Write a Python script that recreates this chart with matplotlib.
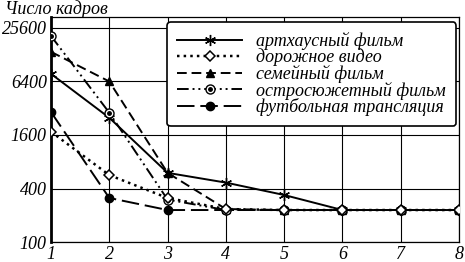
# Число кадров по номеру шага для пяти типов видео (лог. шкала)
import matplotlib.pyplot as plt
from matplotlib.legend_handler import HandlerTuple

plt.rcParams['font.family'] = ['Liberation Serif', 'DejaVu Serif']
plt.rcParams['font.style'] = 'italic'

steps = [1, 2, 3, 4, 5, 6, 7, 8]
arthouse = [7800, 2500, 600, 466, 338, 229, 229, 229]
road = [1740, 566, 313, 235, 229, 229, 229, 229]
family = [13800, 6400, 600, 235, 229, 229, 229, 229]
action = [20800, 2850, 300, 229, 229, 229, 229, 229]
football = [2900, 313, 229, 229, 229, 229, 229, 229]

labels = ['артхаусный фильм', 'дорожное видео', 'семейный фильм',
          'остросюжетный фильм', 'футбольная трансляция']
yticks = [100, 400, 1600, 6400, 25600]

fig = plt.figure(figsize=(4.65, 2.62), dpi=100)
ax = fig.add_axes([0.1097, 0.0763, 0.8774, 0.8587])

lw = 1.4
l1, = ax.plot(steps, arthouse, '-', color='k', lw=lw, marker=(6, 2, 0),
              ms=8, mew=1.0, zorder=3)
l2, = ax.plot(steps, road, ':', color='k', lw=lw + 0.4, marker='D', ms=5.5,
              mfc='white', mec='k', mew=1.1, zorder=4)
l3, = ax.plot(steps, family, '--', color='k', lw=lw, marker='^', ms=6,
              dashes=(5, 2.5), zorder=2)
l4, = ax.plot(steps, action, color='k', lw=lw, marker='o', ms=6.5,
              mfc='white', mec='k', mew=1.0, dashes=(6, 2, 1, 2, 1, 2), zorder=3)
l4b, = ax.plot(steps, action, ls='none', color='k', marker='o', ms=2.5, zorder=3)
l5, = ax.plot(steps, football, color='k', lw=lw, marker='o', ms=6,
              dashes=(9, 3), zorder=2)

ax.set_yscale('log')
ax.set_xlim(1, 8)
ax.set_ylim(100, 34000)
ax.set_yticks(yticks)
ax.set_yticklabels([str(v) for v in yticks])
ax.minorticks_off()
ax.set_xticks(steps)
ax.set_xticklabels([str(s) for s in steps])
ax.tick_params(length=0, labelsize=13, pad=3)
ax.grid(True, color='k', lw=0.8)
for side in ['top', 'right', 'bottom']:
    ax.spines[side].set_linewidth(0.9)
ax.spines['left'].set_linewidth(2.0)

fig.text(0.010, 0.998, 'Число кадров', fontsize=13, va='top', ha='left')

leg = ax.legend([l1, l2, l3, (l4, l4b), l5], labels,
                handler_map={tuple: HandlerTuple(ndivide=1)},
                loc='upper right', bbox_to_anchor=(0.993, 0.978),
                borderaxespad=0, fontsize=13, handlelength=3.6,
                handletextpad=0.8, labelspacing=-0.08, borderpad=0.55,
                framealpha=1, edgecolor='k', fancybox=True)
leg.get_frame().set_linewidth(1.2)

fig.savefig('out.png', dpi=100)
